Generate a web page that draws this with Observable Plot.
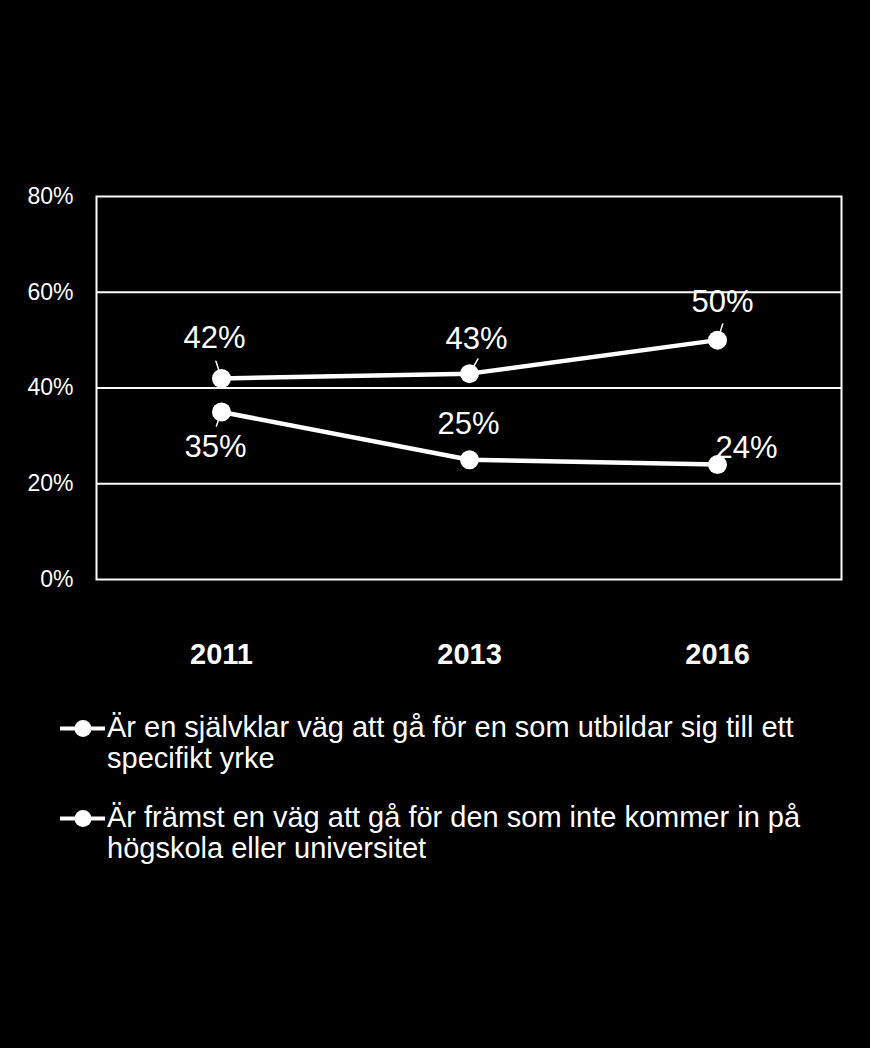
<!DOCTYPE html>
<html><head><meta charset="utf-8">
<script src="https://cdn.jsdelivr.net/npm/d3@7"></script>
<script src="https://cdn.jsdelivr.net/npm/@observablehq/plot@0.6"></script>
<style>
html,body{margin:0;padding:0;background:#000;}
body{width:870px;height:1048px;position:relative;overflow:hidden;font-family:"Liberation Sans",Arial,sans-serif;color:#fff;}
#chart{position:absolute;left:0;top:0;}
#legend{position:absolute;left:58px;top:711.5px;}
.item{display:flex;align-items:flex-start;margin-bottom:28px;}
.item svg{flex:none;display:block;}
.item .txt{font-size:29px;line-height:31px;width:740px;}
</style>
</head>
<body>
<div id="chart"></div>
<div id="legend"></div>
<script>
const years = ["2011", "2013", "2016"];
const seriesNames = [
  "Är en självklar väg att gå för en som utbildar sig till ett specifikt yrke",
  "Är främst en väg att gå för den som inte kommer in på högskola eller universitet"
];
const series1 = [0.42, 0.43, 0.50];
const series2 = [0.35, 0.25, 0.24];
const yTicks = [0, 0.2, 0.4, 0.6, 0.8];

const allSeries = [series1, series2];
const data = [];
allSeries.forEach((vals, s) => vals.forEach((v, i) => data.push({year: years[i], value: v, series: seriesNames[s], s, i})));

// label placement (pixel offsets) per series / year
const labelLayout = [
  [{dx: -7, dy: -40, rot: -18, len: 18}, {dx: 7, dy: -35, rot: 30, len: 17}, {dx: 5, dy: -38, rot: 18, len: 17}],
  [{dx: -6, dy: 35, rot: 200, len: 15}, {dx: -1, dy: -36}, {dx: 29, dy: -17}]
];

const pct = d => Math.round(d * 100) + "%";
const lineShape = {draw(context, l) { context.moveTo(0, 0); context.lineTo(0, -l); }};

const marks = [
  Plot.gridY(yTicks.slice(1, -1), {stroke: "white", strokeOpacity: 1, strokeWidth: 2}),
  Plot.frame({stroke: "white", strokeWidth: 2}),
  Plot.axisY({ticks: yTicks, tickFormat: pct, tickSize: 0, tickPadding: 23, fontSize: 23, fill: "white"}),
  Plot.axisX({tickSize: 0, tickPadding: 64, fontSize: 29, fontWeight: "bold", fill: "white"}),
  Plot.line(data, {x: "year", y: "value", z: "series", stroke: "white", strokeWidth: 4.5}),
];
data.forEach(d => {
  const L = labelLayout[d.s][d.i];
  if (L.len) marks.push(Plot.vector([d], {x: "year", y: "value", length: L.len, rotate: L.rot, anchor: "start", stroke: "white", strokeWidth: 1.5, shape: lineShape}));
});
marks.push(Plot.dot(data, {x: "year", y: "value", r: 9.5, fill: "white"}));
data.forEach(d => {
  const L = labelLayout[d.s][d.i];
  marks.push(Plot.text([d], {x: "year", y: "value", text: dd => pct(dd.value), dx: L.dx, dy: L.dy, fill: "white", fontSize: 31}));
});

const chart = Plot.plot({
  width: 870,
  height: 680,
  marginLeft: 96,
  marginRight: 29,
  marginTop: 196,
  marginBottom: 101,
  style: {background: "black", color: "white", fontFamily: "'Liberation Sans', Arial, sans-serif"},
  x: {type: "point", domain: years, padding: 0.5, label: null},
  y: {domain: [0, 0.8], label: null},
  marks
});
document.getElementById("chart").appendChild(chart);

const legend = document.getElementById("legend");
seriesNames.forEach(name => {
  const item = document.createElement("div");
  item.className = "item";
  item.innerHTML = `<svg width="49" height="31"><line x1="2" x2="47" y1="16.5" y2="16.5" stroke="white" stroke-width="4"/><circle cx="25" cy="16.5" r="8.5" fill="white"/></svg>`;
  const t = document.createElement("div");
  t.className = "txt";
  t.textContent = name;
  item.appendChild(t);
  legend.appendChild(item);
});
</script>
</body></html>
